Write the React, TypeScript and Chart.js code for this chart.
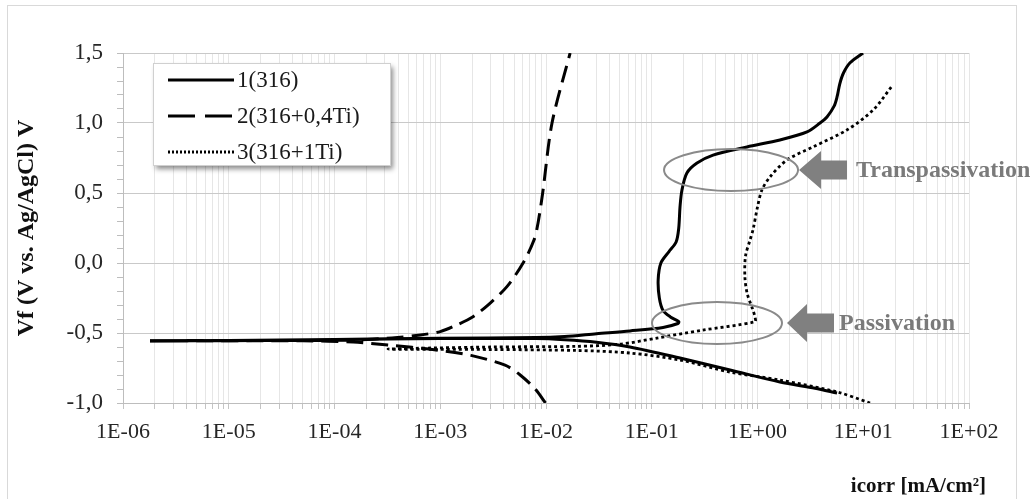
import React, { useEffect, useRef } from 'react';
import { Chart, registerables } from 'chart.js';

Chart.register(...registerables);

const FONT = "'Liberation Serif', 'Times New Roman', serif";

// ---- data (current density mA/cm², potential V) ----
const seriesLabels = ['1(316)', '2(316+0,4Ti)', '3(316+1Ti)'];

// 1(316) – cathodic branch then anodic branch
const s1CathodicI = [5.65, 3.5, 1.63, 0.55, 0.185, 0.0622, 0.03, 0.015, 0.008, 1e-3, 1e-4, 1e-5, 1.8e-6];
const s1CathodicV = [-0.929, -0.895, -0.85, -0.764, -0.679, -0.6, -0.566, -0.548, -0.54, -0.54, -0.548, -0.555, -0.557];
const s1AnodicI = [1e-5, 1e-4, 1e-3, 8e-3, 0.015, 0.03, 0.0622, 0.128, 0.177, 0.18, 0.15, 0.128, 0.118, 0.115, 0.122, 0.145, 0.17, 0.18, 0.185, 0.193, 0.215, 0.268, 0.38, 0.795, 1.63, 2.94, 3.9, 4.54, 5.3, 5.65, 6.0, 6.5, 7.5, 9.95];
const s1AnodicV = [-0.553, -0.546, -0.538, -0.533, -0.525, -0.505, -0.485, -0.46, -0.432, -0.418, -0.385, -0.34, -0.25, -0.121, 0.0, 0.08, 0.15, 0.25, 0.4, 0.521, 0.643, 0.714, 0.771, 0.829, 0.879, 0.936, 1.0, 1.043, 1.12, 1.186, 1.28, 1.357, 1.43, 1.5];

// 2(316+0,4Ti)
const s2CathodicI = [0.0099, 0.0079, 0.0057, 0.0041, 0.00195, 9.1e-4, 3.2e-4, 1.5e-4, 5e-5, 1.8e-6];
const s2CathodicV = [-1.0, -0.9, -0.8, -0.73, -0.66, -0.621, -0.586, -0.565, -0.556, -0.555];
const s2AnodicI = [5e-5, 1.5e-4, 3.5e-4, 6.5e-4, 1e-3, 1.32e-3, 2.04e-3, 2.95e-3, 4.27e-3, 6.07e-3, 7.7e-3, 8.4e-3, 9.3e-3, 1.14e-2, 1.69e-2];
const s2AnodicV = [-0.553, -0.55, -0.535, -0.514, -0.49, -0.455, -0.384, -0.288, -0.169, 0.0, 0.164, 0.284, 0.5, 1.0, 1.5];

// 3(316+1Ti)
const s3CathodicI = [11.6, 5.65, 1.63, 0.55, 0.185, 0.0622, 0.02, 3e-3, 3.2e-4];
const s3CathodicV = [-1.0, -0.921, -0.836, -0.779, -0.693, -0.643, -0.625, -0.618, -0.615];
const s3AnodicI = [3e-3, 0.02, 0.05, 0.112, 0.3, 0.946, 0.95, 0.9, 0.8, 0.76, 0.77, 0.85, 0.906, 1.0, 1.1, 1.31, 1.9, 3.35, 7.0, 12.4, 19];
const s3AnodicV = [-0.6, -0.595, -0.58, -0.536, -0.48, -0.42, -0.39, -0.33, -0.22, -0.1, 0.05, 0.164, 0.236, 0.4, 0.521, 0.614, 0.736, 0.829, 0.95, 1.093, 1.271];

// axis
const xMin = 1e-6;
const xMax = 1e2;
const yMin = -1.0;
const yMax = 1.5;
const yTitle = 'Vf (V vs. Ag/AgCl) V';
const xTitle = 'icorr [mA/cm²]';

// annotations (ellipse centres in data units)
const annotationTexts = ['Transpassivation', 'Passivation'];
const annotationI = [0.562, 0.414];
const annotationV = [0.664, -0.429];

// ---- helpers ----
const zip = (xs: number[], ys: number[]) => xs.map((x, i) => ({ x, y: ys[i] }));
const isHalf = (v: number) => Math.abs(v * 2 - Math.round(v * 2)) < 1e-6;
const isDecade = (v: number) => {
  const l = Math.log10(v);
  return Math.abs(l - Math.round(l)) < 1e-6;
};
const fmtDecade = (v: number) => {
  const e = Math.round(Math.log10(v));
  return `1E${e < 0 ? '-' : '+'}${String(Math.abs(e)).padStart(2, '0')}`;
};

const annStyle = [
  { rx: 67, ry: 21, tipGap: 1, head: 22, shaft: 26, textGap: 9 },
  { rx: 65, ry: 21, tipGap: 5, head: 20, shaft: 27, textGap: 5 },
];

const decorPlugin = {
  id: 'decor',
  beforeDraw(chart: any) {
    const { ctx } = chart;
    ctx.save();
    ctx.fillStyle = '#ffffff';
    ctx.fillRect(0, 0, chart.width, chart.height);
    ctx.strokeStyle = '#d9d9d9';
    ctx.lineWidth = 1;
    ctx.strokeRect(7.5, 5.5, 1009, 500);
    ctx.restore();
  },
  afterDraw(chart: any) {
    const { ctx } = chart;
    const xs = chart.scales.x;
    const ys = chart.scales.y;
    ctx.save();

    // annotations
    annotationTexts.forEach((txt, k) => {
      const st = annStyle[k];
      const cx = xs.getPixelForValue(annotationI[k]);
      const cy = ys.getPixelForValue(annotationV[k]);
      ctx.beginPath();
      ctx.ellipse(cx, cy, st.rx, st.ry, 0, 0, Math.PI * 2);
      ctx.strokeStyle = '#8a8a8a';
      ctx.lineWidth = 2;
      ctx.stroke();

      const tip = cx + st.rx + st.tipGap;
      const hh = 19;
      const sh = 9.5;
      ctx.beginPath();
      ctx.moveTo(tip, cy);
      ctx.lineTo(tip + st.head, cy - hh);
      ctx.lineTo(tip + st.head, cy - sh);
      ctx.lineTo(tip + st.head + st.shaft, cy - sh);
      ctx.lineTo(tip + st.head + st.shaft, cy + sh);
      ctx.lineTo(tip + st.head, cy + sh);
      ctx.lineTo(tip + st.head, cy + hh);
      ctx.closePath();
      ctx.fillStyle = '#808080';
      ctx.fill();

      ctx.font = `bold 24px ${FONT}`;
      ctx.fillStyle = '#7a7a7a';
      ctx.textAlign = 'left';
      ctx.textBaseline = 'middle';
      ctx.fillText(txt, tip + st.head + st.shaft + st.textGap, cy + 1);
    });

    // legend
    const lx = 153, ly = 63, lw = 237, lh = 102;
    ctx.save();
    ctx.shadowColor = 'rgba(0,0,0,0.45)';
    ctx.shadowBlur = 5;
    ctx.shadowOffsetX = 3;
    ctx.shadowOffsetY = 4;
    ctx.fillStyle = '#ffffff';
    ctx.fillRect(lx, ly, lw, lh);
    ctx.restore();
    ctx.strokeStyle = '#d0d0d0';
    ctx.lineWidth = 1;
    ctx.strokeRect(lx + 0.5, ly + 0.5, lw, lh);
    chart.data.datasets.forEach((ds: any, i: number) => {
      const y = 80 + i * 36;
      ctx.beginPath();
      ctx.setLineDash(ds.legendDash || []);
      ctx.strokeStyle = ds.borderColor;
      ctx.lineWidth = ds.borderWidth;
      ctx.moveTo(168, y);
      ctx.lineTo(234, y);
      ctx.stroke();
      ctx.setLineDash([]);
      ctx.font = `23px ${FONT}`;
      ctx.fillStyle = '#1a1a1a';
      ctx.textAlign = 'left';
      ctx.textBaseline = 'middle';
      ctx.fillText(ds.label, 237, y + 1);
    });

    // x title
    ctx.font = `bold 21px ${FONT}`;
    ctx.fillStyle = '#111111';
    ctx.textAlign = 'right';
    ctx.textBaseline = 'middle';
    ctx.fillText(xTitle, 986, 487);
    ctx.restore();
  },
};

export default function App() {
  const ref = useRef<HTMLCanvasElement | null>(null);

  useEffect(() => {
    if (!ref.current) return;
    const chart = new Chart(ref.current, {
      type: 'scatter',
      data: {
        datasets: [
          {
            label: seriesLabels[0],
            data: [...zip(s1CathodicI, s1CathodicV), ...zip(s1AnodicI, s1AnodicV)],
            borderColor: '#000000',
            borderWidth: 3,
            borderDash: [],
            legendDash: [],
          } as any,
          {
            label: seriesLabels[1],
            data: [...zip(s2CathodicI, s2CathodicV), ...zip(s2AnodicI, s2AnodicV)],
            borderColor: '#000000',
            borderWidth: 3,
            borderDash: [17, 8],
            legendDash: [27, 10],
          } as any,
          {
            label: seriesLabels[2],
            data: [...zip(s3CathodicI, s3CathodicV), ...zip(s3AnodicI, s3AnodicV)],
            borderColor: '#000000',
            borderWidth: 2.8,
            borderDash: [3, 3],
            legendDash: [2, 2],
          } as any,
        ],
      },
      options: {
        animation: false,
        responsive: false,
        devicePixelRatio: 1,
        showLine: true,
        elements: {
          point: { radius: 0, hoverRadius: 0 },
          line: { tension: 0.3, fill: false },
        },
        layout: { padding: { left: 10, right: 65, top: 53, bottom: 0 } },
        plugins: { legend: { display: false }, tooltip: { enabled: false } },
        scales: {
          x: {
            type: 'logarithmic',
            min: xMin,
            max: xMax,
            afterFit: (s: any) => { s.height = 96; },
            afterBuildTicks: (s: any) => {
              const t: any[] = [];
              const e0 = Math.round(Math.log10(xMin));
              const e1 = Math.round(Math.log10(xMax));
              for (let e = e0; e <= e1; e++) {
                for (let m = 1; m <= 9; m++) {
                  if (e === e1 && m > 1) break;
                  t.push({ value: m * Math.pow(10, e) });
                }
              }
              s.ticks = t;
            },
            ticks: {
              autoSkip: false,
              maxRotation: 0,
              minRotation: 0,
              padding: 10,
              color: '#262626',
              font: { size: 22, family: FONT },
              callback: (v: any) => (isDecade(Number(v)) ? fmtDecade(Number(v)) : ''),
            },
            grid: { color: '#e6e6e6', tickColor: '#c4c4c4', tickLength: 6, lineWidth: 1 },
            border: { color: '#bdbdbd' },
          },
          y: {
            type: 'linear',
            min: yMin,
            max: yMax,
            afterFit: (s: any) => { s.width = 113; },
            ticks: {
              stepSize: 0.1,
              autoSkip: false,
              padding: 14,
              color: '#262626',
              font: { size: 23, family: FONT },
              callback: (v: any) =>
                isHalf(Number(v)) ? (Math.round(Number(v) * 2) / 2 + 0).toFixed(1).replace('.', ',') : '',
            },
            grid: {
              color: (c: any) => (c.tick && isHalf(c.tick.value) ? '#c9c9c9' : 'rgba(0,0,0,0)'),
              tickColor: '#bdbdbd',
              tickLength: 6,
              lineWidth: 1,
            },
            border: { color: '#bdbdbd' },
            title: {
              display: true,
              text: yTitle,
              color: '#111111',
              font: { size: 24, weight: 'bold', family: FONT },
              padding: { top: 2, bottom: 0 },
            },
          },
        },
      } as any,
      plugins: [decorPlugin],
    });
    return () => chart.destroy();
  }, []);

  return (
    <div style={{ position: 'absolute', left: 0, top: 0, width: 1034, height: 499 }}>
      <canvas ref={ref} width={1034} height={499} />
    </div>
  );
}
